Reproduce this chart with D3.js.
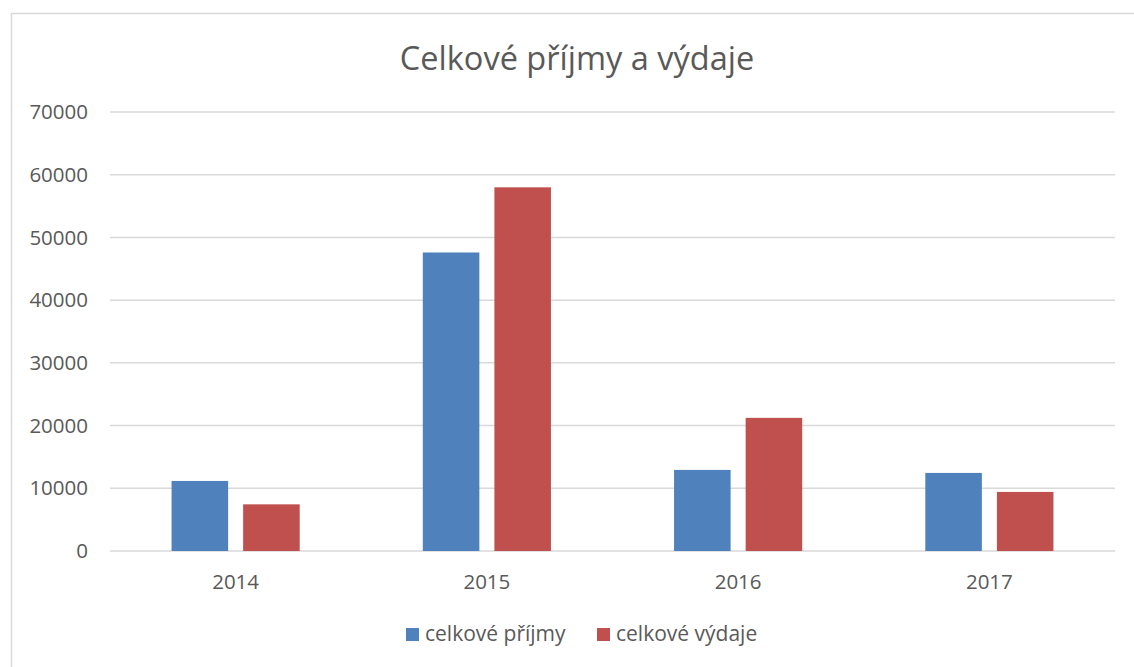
<!DOCTYPE html>
<html>
<head>
<meta charset="utf-8">
<script src="https://cdn.jsdelivr.net/npm/d3@7"></script>
<style>
  body { margin: 0; background: #fff; }
  svg { display: block; font-family: "Open Sans", Lato, sans-serif; }
</style>
</head>
<body>
<div id="chart"></div>
<script>
const years = ["2014", "2015", "2016", "2017"];
const seriesNames = ["celkové příjmy", "celkové výdaje"];
const prijmy = [11170, 47600, 12930, 12450];
const vydaje = [7440, 57990, 21230, 9420];
const yTicks = [0, 10000, 20000, 30000, 40000, 50000, 60000, 70000];
const seriesColors = ["#4f81bd", "#c0504d"];

const width = 1134;
const height = 667;
const margin = { top: 112, right: 19, bottom: 116, left: 110 };

const svg = d3.select("#chart")
    .append("svg")
    .attr("width", width)
    .attr("height", height);

// chart frame
svg.append("rect")
    .attr("x", 11.5)
    .attr("y", 13.5)
    .attr("width", width)
    .attr("height", height)
    .attr("fill", "none")
    .attr("stroke", "#d9d9d9")
    .attr("stroke-width", 1.5);

svg.append("text")
    .attr("x", 577)
    .attr("y", 70)
    .attr("text-anchor", "middle")
    .style("font-size", "32.5px")
    .style("fill", "#595959")
    .text("Celkové příjmy a výdaje");

const y = d3.scaleLinear()
    .domain([0, 70000])
    .range([height - margin.bottom, margin.top]);

const x0 = d3.scaleBand()
    .domain(years)
    .range([margin.left, width - margin.right])
    .paddingInner(0.49)
    .paddingOuter(0.245);

const x1 = d3.scaleBand()
    .domain(seriesNames)
    .range([0, x0.bandwidth()])
    .paddingInner(0.21);

// gridlines
svg.append("g")
    .selectAll("line")
    .data(yTicks)
    .enter()
    .append("line")
    .attr("x1", margin.left)
    .attr("x2", width - margin.right)
    .attr("y1", d => y(d))
    .attr("y2", d => y(d))
    .attr("stroke", "#d9d9d9")
    .attr("stroke-width", 1.5);

// y tick labels
svg.append("g")
    .selectAll("text")
    .data(yTicks)
    .enter()
    .append("text")
    .attr("x", 88)
    .attr("y", d => y(d))
    .attr("dy", "0.35em")
    .attr("text-anchor", "end")
    .style("font-size", "20.5px")
    .style("fill", "#595959")
    .text(d => d);

const tableData = years.map((yr, i) => ({
    year: yr,
    values: [
        { name: seriesNames[0], value: prijmy[i] },
        { name: seriesNames[1], value: vydaje[i] }
    ]
}));

const groups = svg.append("g")
    .selectAll("g")
    .data(tableData)
    .enter()
    .append("g")
    .attr("transform", d => `translate(${x0(d.year)},0)`);

groups.selectAll("rect")
    .data(d => d.values)
    .enter()
    .append("rect")
    .attr("x", d => x1(d.name))
    .attr("y", d => y(d.value))
    .attr("width", x1.bandwidth())
    .attr("height", d => y(0) - y(d.value))
    .attr("fill", (d, i) => seriesColors[i]);

// x labels
svg.append("g")
    .selectAll("text")
    .data(years)
    .enter()
    .append("text")
    .attr("x", d => x0(d) + x0.bandwidth() / 2)
    .attr("y", 589)
    .attr("text-anchor", "middle")
    .style("font-size", "20.5px")
    .style("fill", "#595959")
    .text(d => d);

// legend
const legendX = [406, 597];
const legend = svg.selectAll(".legend")
    .data(seriesNames)
    .enter()
    .append("g")
    .attr("class", "legend")
    .attr("transform", (d, i) => `translate(${legendX[i]}, 628)`);

legend.append("rect")
    .attr("width", 13)
    .attr("height", 13)
    .attr("fill", (d, i) => seriesColors[i]);

legend.append("text")
    .attr("x", 19)
    .attr("y", 13)
    .style("font-size", "21px")
    .style("fill", "#595959")
    .text(d => d);
</script>
</body>
</html>
